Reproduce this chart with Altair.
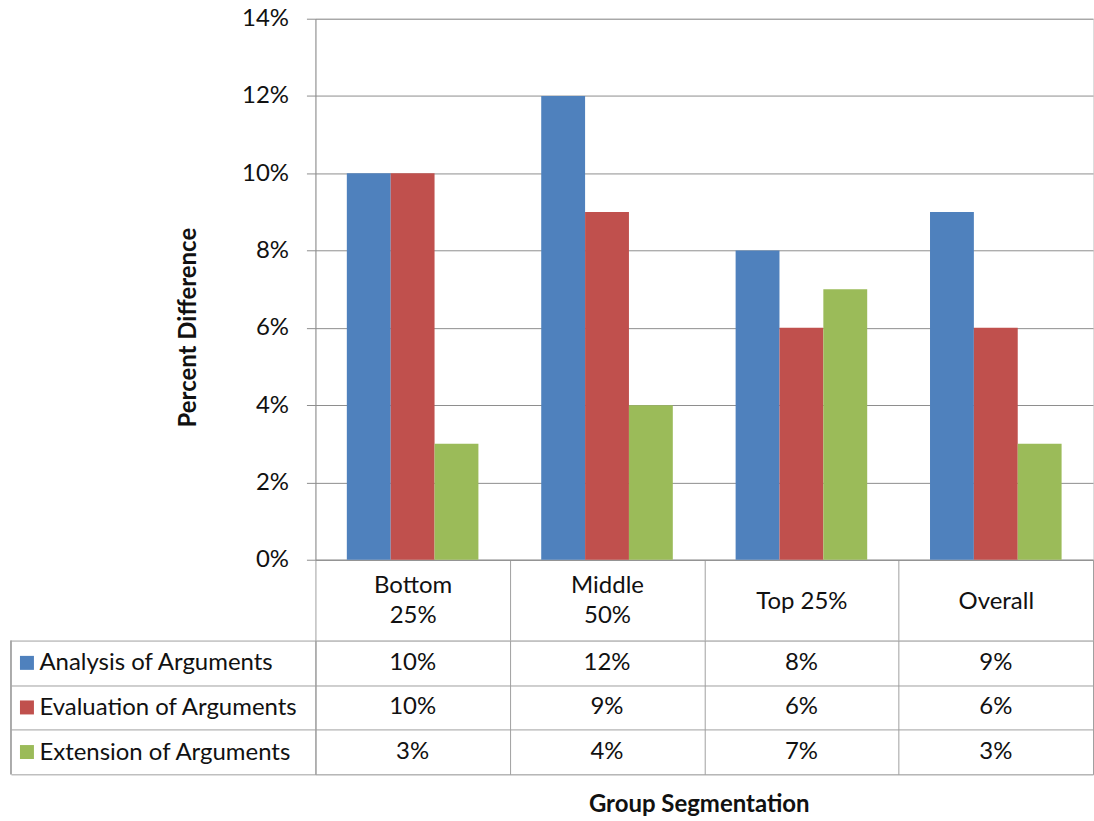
import altair as alt
import pandas as pd

categories = ["Bottom 25%", "Middle 50%", "Top 25%", "Overall"]
series = ["Analysis of Arguments", "Evaluation of Arguments", "Extension of Arguments"]
analysis = [0.10, 0.12, 0.08, 0.09]
evaluation = [0.10, 0.09, 0.06, 0.06]
extension = [0.03, 0.04, 0.07, 0.03]
colors = ["#4F81BD", "#C0504D", "#9BBB59"]
y_ticks = [0, 0.02, 0.04, 0.06, 0.08, 0.10, 0.12, 0.14]

rows = []
for s, vals in zip(series, [analysis, evaluation, extension]):
    for c, v in zip(categories, vals):
        rows.append({"category": c, "series": s, "value": v})
df = pd.DataFrame(rows)
keys_df = pd.DataFrame({"series": series})

FONT = "Lato"
GRID = "#8e8e8e"
LINE = "#a0a0a0"
TXT = "#111111"
FS = 24
TFS = 24
W = 779
HEADER_H = 81
ROWS_H = 134

x_scale = alt.Scale(domain=categories, paddingInner=0, paddingOuter=0)
y_rows = alt.Scale(domain=series, paddingInner=0, paddingOuter=0)
color_scale = alt.Scale(domain=series, range=colors)

two_line = "datum.value == 'Bottom 25%' || datum.value == 'Middle 50%'"
label_expr = two_line + " ? split(datum.value, ' ') : datum.value"

bars = alt.Chart(df).mark_bar().encode(
    x=alt.X("category:N", scale=x_scale, sort=categories, title=None,
            axis=alt.Axis(tickBand="extent", tickSize=HEADER_H, tickColor=LINE,
                          domainColor=GRID, labelExpr=label_expr, labelAngle=0,
                          labelBaseline="middle",
                          labelPadding={"condition": {"test": two_line, "value": -55},
                                        "value": -39},
                          labelLineHeight=30, labelFontSize=FS, labelColor=TXT,
                          labelFont=FONT)),
    xOffset=alt.XOffset("series:N", sort=series,
                        scale=alt.Scale(domain=series, paddingInner=0, paddingOuter=0.716)),
    y=alt.Y("value:Q", scale=alt.Scale(domain=[0, 0.14]),
            axis=alt.Axis(values=y_ticks, format=".0%", grid=True, gridColor=GRID,
                          tickSize=9, tickColor=GRID, domainColor=GRID,
                          labelPadding=18, labelFontSize=FS, labelColor=TXT,
                          labelFont=FONT, title="Percent Difference",
                          titleFont=FONT, titleFontSize=TFS, titleFontWeight="bold",
                          titleColor=TXT, titleX=-127, titleY=309, titleAngle=270,
                          titleAlign="center", titleBaseline="middle")),
    color=alt.Color("series:N", scale=color_scale, legend=None),
).properties(width=W, height=542)

base = alt.Chart(df).encode(
    x=alt.X("category:N", scale=x_scale, sort=categories,
            axis=alt.Axis(tickBand="extent", grid=True, gridColor=LINE, ticks=False,
                          labels=False, domain=False, title="Group Segmentation",
                          titlePadding=18, titleFont=FONT, titleFontSize=TFS,
                          titleFontWeight="bold", titleColor=TXT, titleX=384)),
    y=alt.Y("series:N", scale=y_rows, sort=series,
            axis=alt.Axis(tickBand="extent", tickSize=305, tickColor=LINE, grid=True,
                          gridColor=LINE, domainColor=LINE, labelAlign="left",
                          labelPadding=-28, labelLimit=320, labelFontSize=FS,
                          labelColor=TXT, labelFont=FONT, title=None)),
)
cells = base.mark_text(fontSize=FS, font=FONT, color=TXT).encode(
    text=alt.Text("value:Q", format=".0%"))
keys = alt.Chart(keys_df).mark_square(size=196, opacity=1).encode(
    x=alt.value(-289),
    y=alt.Y("series:N", scale=y_rows, sort=series),
    color=alt.Color("series:N", scale=color_scale, legend=None),
)
border = alt.Chart(keys_df).mark_rule(color=LINE).encode(
    x=alt.value(-305), y=alt.value(0), y2=alt.value(ROWS_H))

table = alt.layer(cells, keys, border).properties(width=W, height=ROWS_H)

chart = alt.vconcat(bars, table, spacing=HEADER_H, bounds="flush").properties(
    padding={"left": 10, "top": 5, "right": 0, "bottom": 0}
).configure_view(stroke="transparent").configure(background="white")

chart.save("out.html", embed_options={"renderer": "svg", "actions": False})
